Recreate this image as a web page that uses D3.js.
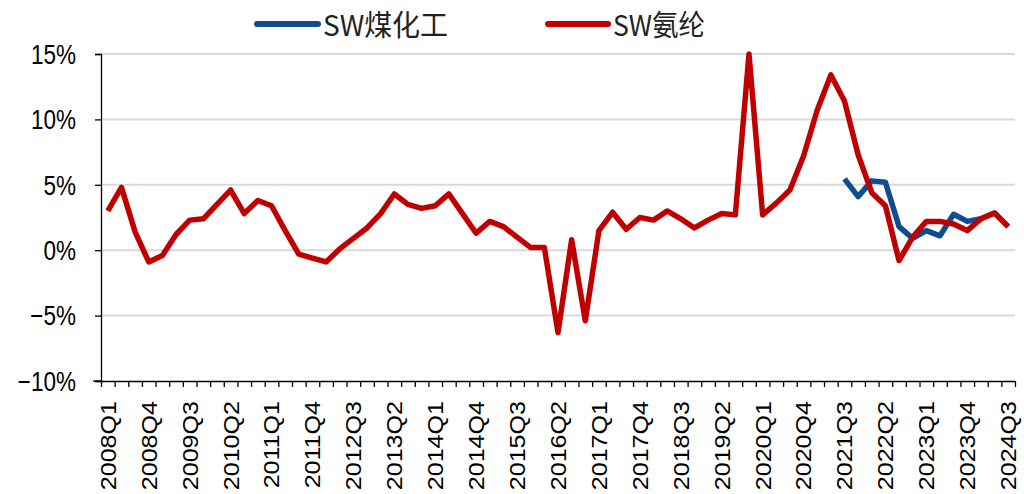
<!DOCTYPE html>
<html>
<head>
<meta charset="utf-8">
<script src="https://cdn.jsdelivr.net/npm/d3@7"></script>
<style>
  html, body { margin: 0; padding: 0; background: #fff; }
  svg { display: block; }
</style>
</head>
<body>
<svg id="chart" width="1024" height="494"></svg>
<script>
// ---- data ----
const years = d3.range(2008, 2025);
const quarters = [];
years.forEach(yr => [1, 2, 3, 4].forEach(q => { if (!(yr === 2024 && q > 3)) quarters.push(yr + "Q" + q); }));

const seriesNames = ["SW煤化工", "SW氨纶"];
const spandex = [
  3.0, 4.8, 1.4, -0.9, -0.4, 1.2, 2.3, 2.4, 3.5, 4.6,
  2.8, 3.8, 3.4, 1.5, -0.3, -0.6, -0.9, 0.1, 0.9, 1.7,
  2.8, 4.3, 3.5, 3.2, 3.4, 4.3, 2.8, 1.3, 2.2, 1.8,
  1.0, 0.2, 0.2, -6.3, 0.8, -5.4, 1.5, 2.9, 1.6, 2.5,
  2.3, 3.0, 2.4, 1.7, 2.3, 2.8, 2.7, 15.0, 2.7, 3.6,
  4.6, 7.2, 10.7, 13.4, 11.4, 7.3, 4.4, 3.4, -0.8, 1.0,
  2.2, 2.2, 2.0, 1.5, 2.4, 2.85, 1.8
];
const coalChemStart = "2021Q3";
const coalChem = [5.45, 4.1, 5.3, 5.2, 1.8, 0.9, 1.5, 1.1, 2.75, 2.2, 2.4, 2.85, 1.8];
const yTicks = [-10, -5, 0, 5, 10, 15];
const labelEvery = 3;

// ---- layout ----
const colors = { blue: "#0f4c94", red: "#c00000", grid: "#d9d9d9" };
const plotLeft = 101, plotRight = 1015, plotTop = 54, plotBottom = 381;
const svg = d3.select("#chart");

const x = d3.scaleBand().domain(quarters).range([plotLeft, plotRight]).padding(0);
const xEdge = d3.scaleLinear().domain([0, quarters.length]).range([plotLeft, plotRight]);
const y = d3.scaleLinear().domain([-10, 15]).range([plotBottom, plotTop]);

// gridlines
svg.append("g").selectAll("line")
  .data(yTicks.filter(v => v > -10))
  .join("line")
  .attr("x1", plotLeft).attr("x2", plotRight)
  .attr("y1", d => y(d)).attr("y2", d => y(d))
  .attr("stroke", colors.grid).attr("stroke-width", 2);

// y axis
const yAxis = svg.append("g").attr("transform", `translate(${plotLeft},0)`)
  .call(d3.axisLeft(y).tickValues(yTicks).tickSize(6).tickFormat(""));
yAxis.select(".domain").attr("stroke", "#000").attr("stroke-width", 1.3);
yAxis.selectAll(".tick line").attr("stroke", "#000").attr("stroke-width", 1.3);

svg.append("g").selectAll("text")
  .data(yTicks)
  .join("text")
  .attr("transform", d => `translate(76,${y(d)}) scale(1,1.2)`)
  .attr("dy", "0.36em")
  .attr("text-anchor", "end")
  .attr("font-family", "Liberation Sans, Arial, sans-serif")
  .attr("font-size", 22.5)
  .attr("fill", "#000")
  .text(d => (d < 0 ? "\u2212" + Math.abs(d) : d) + "%");

// x axis
const xAxis = svg.append("g").attr("transform", `translate(0,${plotBottom})`)
  .call(d3.axisBottom(xEdge).tickValues(d3.range(0, quarters.length + 1)).tickSize(6).tickFormat("").tickSizeOuter(0));
xAxis.select(".domain").attr("stroke", "#000").attr("stroke-width", 1.3);
xAxis.selectAll(".tick line").attr("stroke", "#000").attr("stroke-width", 1.3);
svg.append("line").attr("x1", plotLeft - 8).attr("x2", plotLeft).attr("y1", plotBottom).attr("y2", plotBottom)
  .attr("stroke", "#000").attr("stroke-width", 1.3);

svg.append("g").selectAll("text")
  .data(quarters.filter((q, i) => i % labelEvery === 0))
  .join("text")
  .attr("transform", d => `translate(${x(d) + x.bandwidth() / 2},401) rotate(-90) scale(1.14,1)`)
  .attr("dy", "0.36em")
  .attr("text-anchor", "end")
  .attr("font-family", "Liberation Sans, Arial, sans-serif")
  .attr("font-size", 22)
  .attr("fill", "#000")
  .text(d => d);

// lines
const cx = q => x(q) + x.bandwidth() / 2;
const line = d3.line().x(d => cx(d.q)).y(d => y(d.v)).curve(d3.curveLinear);
const startIdx = quarters.indexOf(coalChemStart);
const blueData = coalChem.map((v, i) => ({ q: quarters[startIdx + i], v }));
const redData = spandex.map((v, i) => ({ q: quarters[i], v }));

svg.append("path").datum(blueData)
  .attr("d", line).attr("fill", "none")
  .attr("stroke", colors.blue).attr("stroke-width", 5.5)
  .attr("stroke-linejoin", "round").attr("stroke-linecap", "butt");
svg.append("path").datum(redData)
  .attr("d", line).attr("fill", "none")
  .attr("stroke", colors.red).attr("stroke-width", 5.5)
  .attr("stroke-linejoin", "round").attr("stroke-linecap", "butt");

// legend
const legend = [
  { name: seriesNames[0], color: colors.blue, x1: 257, x2: 318, tx: 323, tw: 125 },
  { name: seriesNames[1], color: colors.red, x1: 548, x2: 608, tx: 613, tw: 92 }
];
const lg = svg.append("g").selectAll("g").data(legend).join("g");
lg.append("line")
  .attr("x1", d => d.x1).attr("x2", d => d.x2).attr("y1", 24).attr("y2", 24)
  .attr("stroke", d => d.color).attr("stroke-width", 6).attr("stroke-linecap", "round");
lg.append("text")
  .attr("x", d => d.tx).attr("y", 23)
  .attr("dominant-baseline", "central")
  .attr("font-family", "Noto Sans CJK SC, sans-serif")
  .attr("font-size", 29)
  .attr("fill", "#222")
  .attr("textLength", d => d.tw)
  .attr("lengthAdjust", "spacingAndGlyphs")
  .text(d => d.name);
</script>
</body>
</html>
